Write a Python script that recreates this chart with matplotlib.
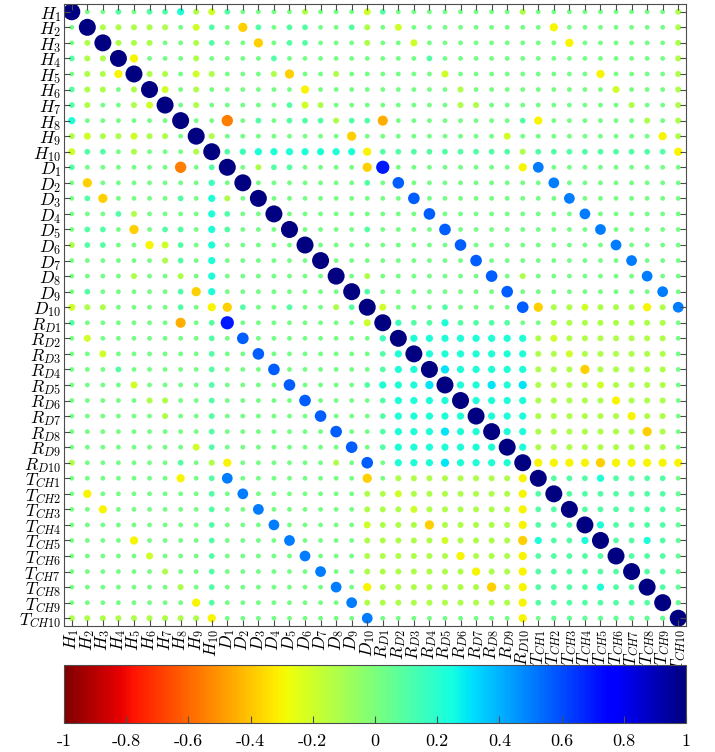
import numpy as np
import matplotlib
matplotlib.use("Agg")
import matplotlib.pyplot as plt

plt.rcParams['mathtext.fontset'] = 'cm'
plt.rcParams['axes.unicode_minus'] = False

# Variable names
h_names = [r'$H_{%d}$' % i for i in range(1, 11)]
d_names = [r'$D_{%d}$' % i for i in range(1, 11)]
rd_names = [r'$R_{D%d}$' % i for i in range(1, 11)]
tch_names = [r'$T_{CH%d}$' % i for i in range(1, 11)]
names = h_names + d_names + rd_names + tch_names

# Correlation levels (by colour)
levels = {'g': 0.02, 'h': 0.06, 'l': -0.12, 'k': -0.2, 'y': -0.3,
          'Y': -0.38, 'o': -0.45, 'O': -0.55, 't': 0.1, 'u': 0.15,
          'c': 0.22, 'C': 0.3, 'b': 0.5, 'B': 0.57, 'n': 0.7}

# Lower triangle, row i holds columns 0..i-1 (groups of ten columns)
lower_rows = [
    "",
    "g",
    "gl",
    "tll",
    "glly",
    "tllgl",
    "tlgglk",
    "cgggggg",
    "lkllkllg",
    "kttglgggl",
    "tggggggOgt",
    "gYgggggggu g",
    "gtYggggtgc lg",
    "gggtlggggc tgg",
    "gttgYgttgc tggg",
    "lttggyktgc ggggg",
    "ggggggltgc gggggg",
    "gggglgglgc ggggggg",
    "gtgggggtYc gggggggg",
    "kllggggtgy Ytggtgglt",
    "tggggggogt nggggggggk",
    "gkgggggggt gBgggggggg u",
    "ggkggggggt ggBggggggg tc",
    "gggtgggggt gggBgggggg tcc",
    "ggggkggggt ggggBggggt cccC",
    "gggggllggt gggggBgggg tcccc",
    "gggggglggt ggggggBggg tccccc",
    "gggggggggt gggggggBgg tcccCcc",
    "ggggggggkt ggggggggBg tccccccc",
    "lggggggtgl ygggggglgB gcccCcccc",
    "gggggggygt bggggggggY glllllllly",
    "gygggggggt gbgggggggl lkllllllly t",
    "ggyggggggt ggbggggggl llklllllly tt",
    "gggggggggt gggbgggggk lllYllllly ttt",
    "ggggyggggt ggggbggggl llllkllllY cttc",
    "gggggkgggt gggggbgggl lllllyllly ttttt",
    "gggggglggt ggggggbggl llllllylly tttttt",
    "ggggggglgt gggggggbgy lllllllYly ttttctt",
    "ggggggggyt ggggggggbl llllllllly tttttttt",
    "llllllllly gggggggggb gggggggggy ghhhhhhhh",
]

n = len(names)
corr = np.eye(n)
for i, row in enumerate(lower_rows):
    row = row.replace(" ", "")
    assert len(row) == i, (i, len(row))
    for j, ch in enumerate(row):
        corr[i, j] = levels[ch]
        corr[j, i] = levels[ch]

fig = plt.figure(figsize=(7.15, 7.52), dpi=100)
ax = fig.add_axes([64 / 715, 126 / 752, 622 / 715, 622 / 752])

jj, ii = np.meshgrid(np.arange(n), np.arange(n))
vals = corr.ravel()
d_px = 4.5 + 12.5 * np.abs(vals)
sizes = (d_px * 0.72) ** 2
order = np.argsort(np.abs(vals))
sc = ax.scatter(jj.ravel()[order], ii.ravel()[order], s=sizes[order],
                c=vals[order], cmap='jet_r', vmin=-1, vmax=1,
                linewidths=0)

ax.set_xlim(-0.5, n - 0.5)
ax.set_ylim(n - 0.5, -0.5)
ax.set_xticks(np.arange(n))
ax.set_yticks(np.arange(n))
ax.set_xticklabels(names, rotation=90, fontsize=12.5)
ax.set_yticklabels(names, fontsize=12.5)
ax.tick_params(direction='in', length=4, width=0.8, color='0.3',
               top=True, right=True, pad=2)
for sp in ax.spines.values():
    sp.set_color('0.3')
    sp.set_linewidth(0.8)

# Colorbar
cax = fig.add_axes([64 / 715, 29 / 752, 622 / 715, 58 / 752])
cb = fig.colorbar(sc, cax=cax, orientation='horizontal')
cb_ticks = [-1, -0.8, -0.6, -0.4, -0.2, 0, 0.2, 0.4, 0.6, 0.8, 1]
cb_labels = ['-1', '-0.8', '-0.6', '-0.4', '-0.2', '0', '0.2', '0.4',
             '0.6', '0.8', '1']
cb.set_ticks(cb_ticks)
cb.set_ticklabels(cb_labels)
cax.tick_params(direction='in', length=5, width=0.8, color='0.3', pad=8)
for lab in cax.get_xticklabels():
    lab.set_fontfamily('cmr10')
    lab.set_fontsize(13)
cb.outline.set_edgecolor('0.3')
cb.outline.set_linewidth(0.8)

fig.savefig('out.png', dpi=100)
